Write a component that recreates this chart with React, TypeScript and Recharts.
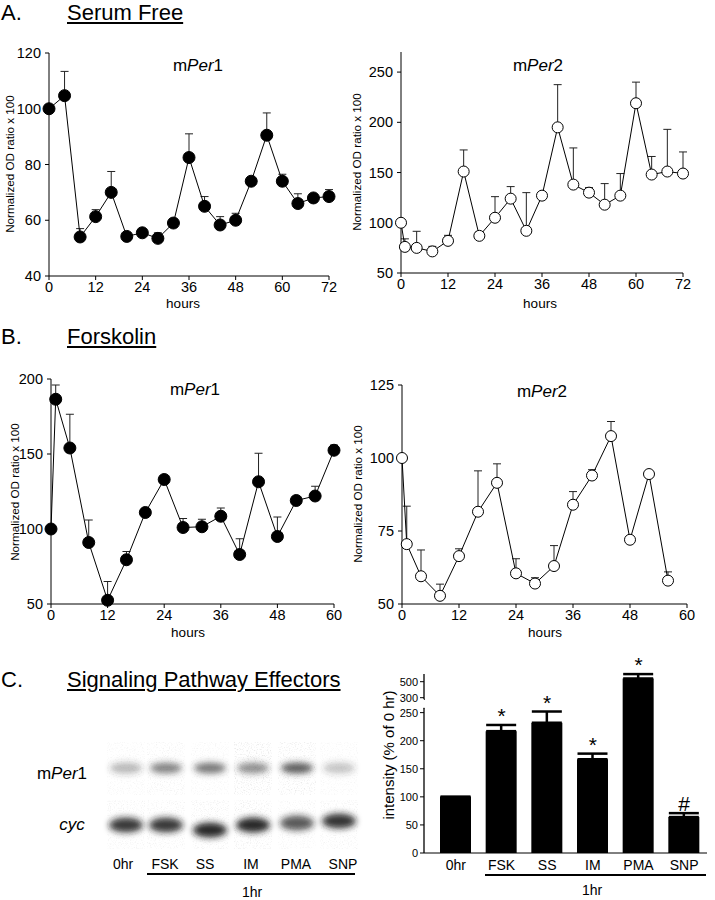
import React from 'react';
import {
  LineChart,
  Line,
  XAxis,
  YAxis,
  ErrorBar,
  ComposedChart,
  Bar,
  ReferenceLine,
  LabelList,
} from 'recharts';

const FONT = '"Liberation Sans", Arial, Helvetica, sans-serif';

// ---------- Panel A: serum free ----------
const serumHoursPer1 = [0, 4, 8, 12, 16, 20, 24, 28, 32, 36, 40, 44, 48, 52, 56, 60, 64, 68, 72];
const serumPer1 = [100, 104.7, 54, 61.3, 70, 54.2, 55.5, 53.5, 59, 82.5, 65, 58.3, 60, 74, 90.5, 74, 66, 68, 68.5];
const serumPer1Err = [0, 8.7, 3, 2.5, 7.5, 0, 0, 2, 1.5, 8.5, 3.5, 3, 2.5, 0, 8, 2.5, 3.5, 0, 2.5];

const serumHoursPer2 = [0, 1, 4, 8, 12, 16, 20, 24, 28, 32, 36, 40, 44, 48, 52, 56, 60, 64, 68, 72];
const serumPer2 = [100, 76, 75, 71.5, 82, 151, 87, 105, 124, 92, 127, 195, 138, 130, 118, 127, 219, 148, 151, 149];
const serumPer2Err = [0, 8, 16.5, 5, 5.5, 21.5, 4, 21, 12, 38, 0, 42.5, 36.5, 5, 21, 22, 21, 18, 42, 21.5];

// ---------- Panel B: forskolin ----------
const forskHoursPer1 = [0, 1, 4, 8, 12, 16, 20, 24, 28, 32, 36, 40, 44, 48, 52, 56, 60];
const forskPer1 = [100, 186.5, 154, 91, 52.5, 79.5, 111, 133, 101, 101.5, 108.5, 83, 131.5, 95, 119, 122, 152.5];
const forskPer1Err = [0, 9.5, 22.5, 15, 12.5, 5.5, 0, 0, 6, 5, 5.5, 10.5, 19, 13, 0, 6.5, 3.5];

const forskHoursPer2 = [0, 1, 4, 8, 12, 16, 20, 24, 28, 32, 36, 40, 44, 48, 52, 56];
const forskPer2 = [100, 70.5, 59.5, 52.8, 66.4, 81.6, 91.5, 60.5, 57, 63, 84, 94, 107.5, 72, 94.5, 58];
const forskPer2Err = [0, 13, 9, 4, 2.5, 14, 6.5, 5, 2, 7, 4.5, 2, 5, 0, 0, 3];

// ---------- Axis ticks ----------
const ticksHours72 = [0, 12, 24, 36, 48, 60, 72];
const ticksHours60 = [0, 12, 24, 36, 48, 60];
const ticksA1 = [40, 60, 80, 100, 120];
const ticksA2 = [50, 100, 150, 200, 250];
const ticksB1 = [50, 100, 150, 200];
const ticksB2 = [50, 75, 100, 125];

// ---------- Panel C: signaling effectors ----------
const treatments = ['0hr', 'FSK', 'SS', 'IM', 'PMA', 'SNP'];
const intensity = [100, 217, 232, 167, 540, 64];
const intensityErr = [0, 11, 20, 10, 55, 7];
const significance = ['', '*', '*', '*', '*', '#'];
const intensityTicks = [0, 50, 100, 150, 200, 250, 300, 500];

// blot band densities (0..1)
const per1Density = [0.35, 0.6, 0.65, 0.55, 0.8, 0.28];
const cycDensity = [0.85, 0.85, 0.92, 0.95, 0.72, 0.88];
const per1Noise = [0.16, 0.2, 0.16, 0.34, 0.3, 0.14];
const cycNoise = [0.2, 0.2, 0.24, 0.28, 0.18, 0.2];

// broken-axis transform (display units of the lower scale)
const UPPER_BASE_V = 300;
const UPPER_BASE_D = 276.6;
const UPPER_SLOPE = 0.1425;
const LOWER_AXIS_END = 257.7;
const UPPER_AXIS_START = 273.7;
const DISP_TOP = 318.8;
const disp = (v: number) => (v <= 260 ? v : UPPER_BASE_D + (v - UPPER_BASE_V) * UPPER_SLOPE);

type TProps = {
  x: number;
  y: number;
  size?: number;
  anchor?: 'start' | 'middle' | 'end';
  style?: React.CSSProperties;
  children: React.ReactNode;
};

const T = ({ x, y, size = 14, anchor = 'middle', style, children }: TProps) => {
  const tx = anchor === 'middle' ? '-50%' : anchor === 'start' ? '0' : '-100%';
  return (
    <div
      style={{
        position: 'absolute',
        left: x,
        top: y,
        fontSize: size,
        lineHeight: 1,
        whiteSpace: 'nowrap',
        color: '#000',
        transform: `translate(${tx},-50%)`,
        ...style,
      }}
    >
      {children}
    </div>
  );
};

const RT = ({ x, y, size, children }: { x: number; y: number; size: number; children: React.ReactNode }) => (
  <div
    style={{
      position: 'absolute',
      left: x,
      top: y,
      fontSize: size,
      lineHeight: 1,
      whiteSpace: 'nowrap',
      color: '#000',
      transform: 'translate(-50%,-50%) rotate(-90deg)',
    }}
  >
    {children}
  </div>
);

type PanelProps = {
  left: number;
  top: number;
  width: number;
  height: number;
  margin: { top: number; right: number; bottom: number; left: number };
  yWidth: number;
  hours: number[];
  values: number[];
  errs: number[];
  xMax: number;
  xTicks: number[];
  yDomain: [number, number];
  yTicks: number[];
  hollow?: boolean;
};

const tickStyle = { fill: '#000', fontSize: 14.5, fontFamily: FONT };

function LinePanel(p: PanelProps) {
  const data = p.hours.map((h, i) => ({ h, v: p.values[i], e: [0, p.errs[i]] }));
  return (
    <div style={{ position: 'absolute', left: p.left, top: p.top }}>
      <LineChart width={p.width} height={p.height} data={data} margin={p.margin}>
        <XAxis
          dataKey="h"
          type="number"
          domain={[0, p.xMax]}
          ticks={p.xTicks}
          interval={0}
          tickSize={4}
          tickMargin={2}
          height={30}
          stroke="#000"
          tick={tickStyle}
        />
        <YAxis
          type="number"
          domain={p.yDomain}
          ticks={p.yTicks}
          interval={0}
          width={p.yWidth}
          tickSize={4}
          tickMargin={4}
          stroke="#000"
          tick={tickStyle}
        />
        <Line
          dataKey="v"
          stroke="#000"
          strokeWidth={1}
          isAnimationActive={false}
          dot={
            p.hollow
              ? { r: 5.5, fill: '#fff', stroke: '#000', strokeWidth: 1 }
              : { r: 6, fill: '#000', stroke: '#000', strokeWidth: 1 }
          }
        >
          <ErrorBar dataKey="e" width={4} stroke="#222" strokeWidth={1} direction="y" />
        </Line>
      </LineChart>
    </div>
  );
}

const MPer = ({ n }: { n: string }) => (
  <span>
    m<i>Per</i>
    {n}
  </span>
);

function BarPanel() {
  const data = treatments.map((t, i) => {
    const v = disp(intensity[i]);
    const top = disp(intensity[i] + intensityErr[i]);
    return { t, v, e: [0, top - v], top, mark: significance[i] };
  });
  return (
    <div style={{ position: 'absolute', left: 355, top: 640 }}>
      <ComposedChart width={360} height={260} data={data} margin={{ top: 34, right: 8, bottom: 17, left: 0 }}>
        <XAxis
          dataKey="t"
          padding={{ left: 9, right: 0 }}
          tickLine={false}
          tickMargin={1}
          height={30}
          stroke="#000"
          tick={{ fill: '#000', fontSize: 14, fontFamily: FONT }}
        />
        <XAxis xAxisId="n" type="number" domain={[0, 1]} hide />
        <YAxis
          type="number"
          domain={[0, DISP_TOP]}
          ticks={intensityTicks.map(disp)}
          tickFormatter={(_v: number, i: number) => String(intensityTicks[i])}
          interval={0}
          width={69}
          axisLine={false}
          tickSize={4}
          tickMargin={2}
          stroke="#000"
          tick={{ fill: '#000', fontSize: 11, fontFamily: FONT }}
        />
        <ReferenceLine
          xAxisId="n"
          segment={[{ x: 0, y: 0 }, { x: 0, y: LOWER_AXIS_END }]}
          stroke="#000"
          strokeWidth={1.3}
          ifOverflow="visible"
        />
        <ReferenceLine
          xAxisId="n"
          segment={[{ x: -0.009, y: LOWER_AXIS_END }, { x: 0.009, y: LOWER_AXIS_END }]}
          stroke="#000"
          strokeWidth={1.3}
          ifOverflow="visible"
        />
        <ReferenceLine
          xAxisId="n"
          segment={[{ x: 0, y: UPPER_AXIS_START }, { x: 0, y: DISP_TOP }]}
          stroke="#000"
          strokeWidth={1.3}
          ifOverflow="visible"
        />
        <ReferenceLine
          xAxisId="n"
          segment={[{ x: 0, y: UPPER_AXIS_START }, { x: 0.012, y: UPPER_AXIS_START }]}
          stroke="#000"
          strokeWidth={1.3}
          ifOverflow="visible"
        />
        <Bar dataKey="v" fill="#000" barSize={31} isAnimationActive={false}>
          <ErrorBar dataKey="e" width={15} stroke="#000" strokeWidth={2.5} direction="y" />
        </Bar>
        <Line dataKey="top" stroke="none" dot={false} activeDot={false} isAnimationActive={false}>
          <LabelList dataKey="mark" position="top" offset={2} fill="#000" fontSize={21} fontFamily={FONT} />
        </Line>
      </ComposedChart>
    </div>
  );
}

const laneX = [126, 166, 210, 253, 297, 339];
const cycY = [825, 825, 830, 825, 823, 821];
const laneLabelX = [123, 165, 205, 251, 296, 343];

function Blot() {
  const ox = 100;
  const oy = 735;
  return (
    <svg
      width={270}
      height={125}
      style={{ position: 'absolute', left: ox, top: oy }}
      viewBox={`${ox} ${oy} 270 125`}
    >
      <defs>
        <filter id="blurBand" x="-50%" y="-100%" width="200%" height="300%">
          <feGaussianBlur stdDeviation="3.2" />
        </filter>
        <filter id="speck" x="0" y="0" width="100%" height="100%">
          <feTurbulence type="fractalNoise" baseFrequency="0.85" numOctaves="2" seed="7" result="n" />
          <feColorMatrix
            in="n"
            type="matrix"
            values="0 0 0 0 0.5  0 0 0 0 0.5  0 0 0 0 0.5  0 0 0 3.0 -1.55"
            result="s"
          />
          <feComposite in="s" in2="SourceGraphic" operator="in" />
        </filter>
      </defs>
      {laneX.map((x, i) => (
        <g key={i}>
          <rect x={x - 19} y={742} width={38} height={53} fill="#000" fillOpacity={per1Noise[i]} filter="url(#speck)" />
          <rect x={x - 19} y={800} width={38} height={49} fill="#000" fillOpacity={cycNoise[i]} filter="url(#speck)" />
          <ellipse cx={x} cy={768} rx={16} ry={5.5} fill="#333" fillOpacity={per1Density[i]} filter="url(#blurBand)" />
          <ellipse cx={x} cy={cycY[i]} rx={17} ry={7.5} fill="#1a1a1a" fillOpacity={cycDensity[i]} filter="url(#blurBand)" />
        </g>
      ))}
    </svg>
  );
}

export default function App() {
  return (
    <div
      style={{
        position: 'absolute',
        left: 0,
        top: 0,
        width: 715,
        height: 900,
        background: '#fff',
        fontFamily: FONT,
        overflow: 'hidden',
      }}
    >
      {/* Titles */}
      <T x={1} y={13} size={22} anchor="start">A.</T>
      <T x={67} y={13} size={22} anchor="start" style={{ textDecoration: 'underline' }}>Serum Free</T>
      <T x={1} y={337} size={22} anchor="start">B.</T>
      <T x={67} y={337} size={22} anchor="start" style={{ textDecoration: 'underline' }}>Forskolin</T>
      <T x={1} y={680} size={22} anchor="start">C.</T>
      <T x={67} y={680} size={22} anchor="start" style={{ textDecoration: 'underline' }}>Signaling Pathway Effectors</T>

      {/* Panel A */}
      <LinePanel
        left={0}
        top={40}
        width={345}
        height={270}
        margin={{ top: 13, right: 16, bottom: 4, left: 0 }}
        yWidth={49}
        hours={serumHoursPer1}
        values={serumPer1}
        errs={serumPer1Err}
        xMax={72}
        xTicks={ticksHours72}
        yDomain={[40, 120]}
        yTicks={ticksA1}
      />
      <LinePanel
        left={355}
        top={40}
        width={345}
        height={270}
        margin={{ top: 12, right: 17, bottom: 7, left: 0 }}
        yWidth={46}
        hours={serumHoursPer2}
        values={serumPer2}
        errs={serumPer2Err}
        xMax={72}
        xTicks={ticksHours72}
        yDomain={[50, 270]}
        yTicks={ticksA2}
        hollow
      />
      <T x={198} y={65} size={17}><MPer n="1" /></T>
      <T x={538} y={65} size={17}><MPer n="2" /></T>
      <RT x={10} y={164} size={11.7}>Normalized OD ratio x 100</RT>
      <RT x={357} y={162} size={11.7}>Normalized OD ratio x 100</RT>
      <T x={183} y={304} size={13.5}>hours</T>
      <T x={540} y={304} size={13.5}>hours</T>

      {/* Panel B */}
      <LinePanel
        left={0}
        top={370}
        width={345}
        height={270}
        margin={{ top: 9, right: 11, bottom: 6, left: 0 }}
        yWidth={51}
        hours={forskHoursPer1}
        values={forskPer1}
        errs={forskPer1Err}
        xMax={60}
        xTicks={ticksHours60}
        yDomain={[50, 200]}
        yTicks={ticksB1}
      />
      <LinePanel
        left={355}
        top={370}
        width={345}
        height={270}
        margin={{ top: 15, right: 13, bottom: 6, left: 0 }}
        yWidth={47}
        hours={forskHoursPer2}
        values={forskPer2}
        errs={forskPer2Err}
        xMax={60}
        xTicks={ticksHours60}
        yDomain={[50, 125]}
        yTicks={ticksB2}
        hollow
      />
      <T x={195} y={389} size={17}><MPer n="1" /></T>
      <T x={542} y={391} size={17}><MPer n="2" /></T>
      <RT x={15} y={492} size={11.7}>Normalized OD ratio x 100</RT>
      <RT x={358} y={494} size={11.7}>Normalized OD ratio x 100</RT>
      <T x={188} y={633} size={13.5}>hours</T>
      <T x={545} y={633} size={13.5}>hours</T>

      {/* Panel C: blot */}
      <Blot />
      <T x={62} y={773} size={17}><MPer n="1" /></T>
      <T x={72} y={824} size={17} style={{ fontStyle: 'italic' }}>cyc</T>
      {treatments.map((t, i) => (
        <T key={t} x={laneLabelX[i]} y={864} size={14}>{t}</T>
      ))}
      <div style={{ position: 'absolute', left: 147, top: 873, width: 208, height: 1.5, background: '#000' }} />
      <T x={252} y={892} size={14}>1hr</T>

      {/* Panel C: bars */}
      <BarPanel />
      <RT x={388} y={755} size={15}>intensity (% of 0 hr)</RT>
      <div style={{ position: 'absolute', left: 485, top: 874, width: 221, height: 1.5, background: '#000' }} />
      <T x={592} y={890} size={14}>1hr</T>
    </div>
  );
}
